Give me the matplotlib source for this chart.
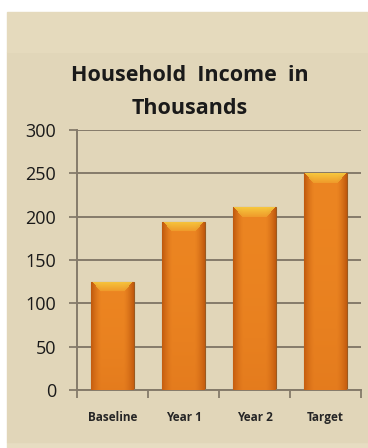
import numpy as np
import matplotlib
matplotlib.use("Agg")
import matplotlib.pyplot as plt
from matplotlib.patches import Rectangle
from matplotlib.ticker import FixedLocator

categorias = ["Baseline", "Year 1", "Year 2", "Target"]
valores = [125, 194, 211, 250]
titulo = "Household  Income  in\nThousands"
ticks_y = [0, 50, 100, 150, 200, 250, 300]

W, H = 368, 448
FONDO = "#e1d6b9"
FONDO_SUP = "#e5dabd"
GRIS = "#857b6a"


def px(v, total):
    return v / total


def degradado_barra(ax, barra):
    # color de la barra: sombreado horizontal + bisel amarillo arriba
    (x0, y0), (x1, y1) = ax.transData.transform(
        [(barra.get_x(), barra.get_y()),
         (barra.get_x() + barra.get_width(), barra.get_y() + barra.get_height())])
    wpx = max(int(round(x1 - x0)), 2)
    hpx = max(int(round(y1 - y0)), 2)
    u = (np.arange(wpx) + 0.5) / wpx
    v = np.arange(hpx) + 0.5          # pixeles desde arriba
    U, V = np.meshgrid(u, v)

    centro = np.array([0.925, 0.52, 0.13])
    borde = np.array([0.74, 0.34, 0.05])
    abajo = np.array([0.84, 0.42, 0.09])
    amarillo = np.array([0.97, 0.80, 0.25])

    lado = np.abs(U - 0.5) * 2
    t = np.clip((lado - 0.5) / 0.5, 0, 1) ** 1.5
    img = centro * (1 - t[..., None]) + borde * t[..., None]
    tv = np.clip(V / hpx, 0, 1) ** 2
    img = img * (1 - 0.35 * tv[..., None]) + abajo * 0.35 * tv[..., None]

    # bisel superior (trapecio)
    prof = 10.0
    dist_lado = np.minimum(U, 1 - U) * wpx
    cara = (V < prof) & (dist_lado > V * 0.8 + 1)
    s = np.clip(1 - V / prof, 0, 1)
    mezcla = np.where(cara, 0.3 + 0.65 * s, 0.0)
    img = img * (1 - mezcla[..., None]) + amarillo * mezcla[..., None]

    im = ax.imshow(img, extent=(barra.get_x(), barra.get_x() + barra.get_width(),
                                barra.get_y(), barra.get_y() + barra.get_height()),
                   aspect="auto", origin="upper", zorder=3, interpolation="bilinear")
    im.set_clip_path(barra)


def main():
    fig = plt.figure(figsize=(W / 100, H / 100), dpi=100, facecolor="white")

    # paneles de fondo
    for y, h, c in [(0, 6, "#e7ddc2"), (6, H - 6 - 52, FONDO), (H - 52, 40, FONDO_SUP)]:
        fig.patches.append(Rectangle((px(7, W), px(y, H)), 1, px(h, H),
                                     transform=fig.transFigure, color=c, zorder=-10))

    ax = fig.add_axes([px(77, W), px(H - 390, H), px(284, W), px(260, H)])
    ax.set_facecolor("none")

    x = np.arange(len(categorias))
    ax.set_xlim(-0.5, len(categorias) - 0.5)
    ax.set_ylim(0, 300)

    barras = ax.bar(x, valores, width=0.6, color="#e8801e",
                    edgecolor="#9a5a20", linewidth=0.8, zorder=2)
    for b in barras:
        degradado_barra(ax, b)

    ax.set_yticks(ticks_y)
    ax.set_yticklabels([str(t) for t in ticks_y], fontsize=13,
                       family="Open Sans", color="#1a1a1a")
    ax.set_xticks(x)
    ax.set_xticklabels(categorias, fontsize=8.5, family="Open Sans",
                       fontweight="bold", color="#262626")
    ax.tick_params(axis="x", length=0, pad=15)
    ax.xaxis.set_minor_locator(FixedLocator(np.arange(len(categorias) + 1) - 0.5))
    ax.tick_params(axis="x", which="minor", length=6, width=1.3, color=GRIS)
    ax.tick_params(axis="y", length=6, width=1.3, color=GRIS, pad=9)

    ax.grid(axis="y", color=GRIS, linewidth=1.4, zorder=1)
    ax.set_axisbelow(True)
    for lado in ["top", "right"]:
        ax.spines[lado].set_visible(False)
    for lado in ["left", "bottom"]:
        ax.spines[lado].set_color(GRIS)
        ax.spines[lado].set_linewidth(1.4)

    fig.text(px(190, W), px(H - 92, H), titulo, ha="center", va="center",
             fontsize=15.5, fontweight="bold", family="Open Sans",
             color="#1a1a1a", linespacing=1.7)

    fig.savefig("out.png", dpi=100)
    plt.close(fig)


if __name__ == "__main__":
    main()
